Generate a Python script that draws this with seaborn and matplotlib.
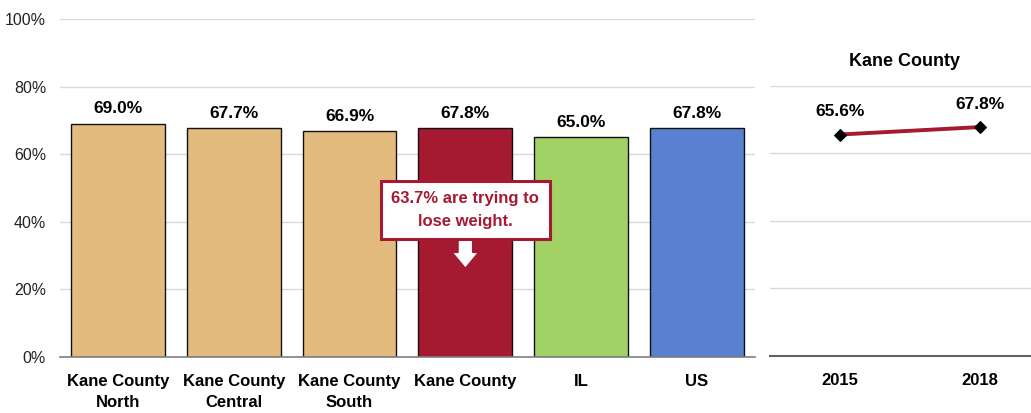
import pandas as pd
import seaborn as sns
import matplotlib.pyplot as plt

regions = ["Kane County\nNorth", "Kane County\nCentral", "Kane County\nSouth", "Kane County", "IL", "US"]
values = [69.0, 67.7, 66.9, 67.8, 65.0, 67.8]
bar_colors = ["#E3BB7E", "#E3BB7E", "#E3BB7E", "#A51A30", "#A2D165", "#5882D1"]

years = ["2015", "2018"]
trend = [65.6, 67.8]

callout = "63.7% are trying to\nlose weight."

sns.set_style("white")
plt.rcParams['font.family'] = ['Liberation Sans', 'DejaVu Sans']

crimson = "#A51A30"
grid_col = "#D9D9D9"

fig = plt.figure(figsize=(10.31, 4.13), dpi=100)
ax = fig.add_axes([0.0582, 0.1356, 0.674, 0.818])
ax2 = fig.add_axes([0.747, 0.1380, 0.26, 0.654])

# Bar chart
df = pd.DataFrame({"region": regions, "value": values})
sns.barplot(data=df, x="region", y="value", hue="region", palette=bar_colors, saturation=1,
            width=0.81, edgecolor="#111111", linewidth=1.0, legend=False, ax=ax)
ax.set_xlim(-0.5, 5.5)
ax.set_ylim(0, 100)
ax.set_yticks(range(0, 101, 20))
ax.set_yticklabels([f"{t}%" for t in range(0, 101, 20)], fontsize=11.5, color="#222222")
ax.tick_params(axis="x", labelsize=12, length=0, pad=12, colors="black")
ax.tick_params(axis="y", length=0, pad=10)
for lab in ax.get_xticklabels():
    lab.set_fontweight("bold")
    lab.set_linespacing(1.5)
ax.set_xlabel("")
ax.set_ylabel("")
ax.grid(axis="y", color=grid_col, linewidth=1)
ax.set_axisbelow(True)
for s in ["top", "right", "left"]:
    ax.spines[s].set_visible(False)
ax.spines["bottom"].set_color("#808080")
ax.spines["bottom"].set_linewidth(1.2)
for i, v in enumerate(values):
    ax.text(i, v + 2.2, f"{v:.1f}%", ha="center", va="bottom", fontsize=12.5,
            fontweight="bold", color="black")

# Callout
ax.annotate("", xy=(3, 25.3), xytext=(3, 36),
            arrowprops=dict(arrowstyle="simple,head_width=1.0,head_length=0.6,tail_width=0.55",
                            mutation_scale=20, fc="white", ec=crimson, lw=1.5), zorder=5)
ax.text(3, 43.5, callout, ha="center", va="center", fontsize=12, fontweight="bold",
        color=crimson, linespacing=1.6, zorder=6,
        bbox=dict(boxstyle="square,pad=0.65", fc="white", ec=crimson, lw=2.2))

# Trend chart
tdf = pd.DataFrame({"year": years, "value": trend})
sns.lineplot(data=tdf, x="year", y="value", color=crimson, linewidth=2.8, marker="D",
             markersize=6, markerfacecolor="black", markeredgecolor="black", ax=ax2)
ax2.set_xlim(-0.5, 1.42)
ax2.set_ylim(0, 80)
ax2.set_yticks(range(0, 81, 20))
ax2.set_yticklabels([])
ax2.tick_params(axis="y", length=0)
ax2.tick_params(axis="x", labelsize=12, length=0, pad=12, colors="black")
for lab in ax2.get_xticklabels():
    lab.set_fontweight("bold")
ax2.set_xlabel("")
ax2.set_ylabel("")
ax2.grid(axis="y", color=grid_col, linewidth=1)
for s in ["top", "right", "left"]:
    ax2.spines[s].set_visible(False)
ax2.spines["bottom"].set_color("#606060")
ax2.spines["bottom"].set_linewidth(1.5)
for i, v in enumerate(trend):
    ax2.text(i, v + 4.5, f"{v:.1f}%", ha="center", va="bottom", fontsize=12.5,
             fontweight="bold", color="black")
ax2.set_title("Kane County", fontsize=13, fontweight="bold", pad=14, color="black")

fig.savefig("out.png", dpi=100)
